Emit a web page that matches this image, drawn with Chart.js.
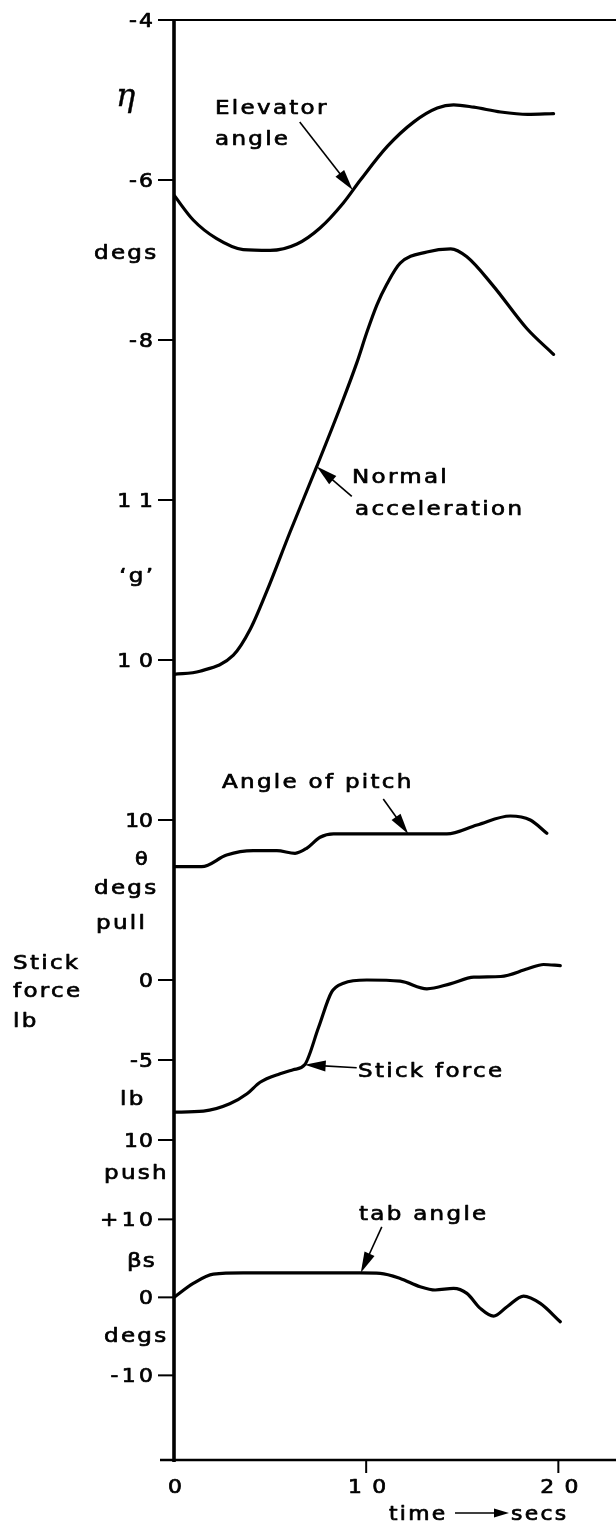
<!DOCTYPE html>
<html>
<head>
<meta charset="utf-8">
<script src="https://cdn.jsdelivr.net/npm/chart.js@4.4.0/dist/chart.umd.min.js"></script>
<style>
  html, body { margin: 0; padding: 0; background: #fff; }
  #wrap { width: 616px; height: 1525px; }
</style>
</head>
<body>
<div id="wrap"><canvas id="chartManoeuvre"></canvas></div>
<script>
// Time histories of a pull-up: elevator, normal acceleration, pitch, stick force, tab
const timeTicks = [0, 10, 20];
const timeTickLabels = ['0', '10', '20'];

const elevatorTime = [0, 1.0, 2.2, 3.6, 5.0, 6.4, 7.6, 8.8, 9.7, 11.1, 12.5, 13.7, 14.55, 15.6, 17.0, 18.4, 19.75];
const elevatorDeg = [-6.19, -6.50, -6.73, -6.87, -6.88, -6.80, -6.60, -6.29, -6.00, -5.58, -5.27, -5.10, -5.06, -5.09, -5.15, -5.18, -5.17];

const accelTime = [0, 1.35, 3.09, 3.96, 4.83, 6.04, 7.43, 8.65, 9.52, 10.04, 10.56, 11.08, 11.77, 13.16, 14.4, 15.24, 16.6, 18.37, 19.75];
const accelG = [9.91, 9.93, 10.03, 10.19, 10.43, 10.80, 11.21, 11.58, 11.86, 12.05, 12.22, 12.35, 12.48, 12.55, 12.57, 12.52, 12.34, 12.07, 11.91];

const pitchTime = [0, 1.44, 2.74, 4.13, 5.35, 6.3, 6.9, 7.6, 8.3, 11.42, 14.2, 15.77, 17.5, 18.54, 19.4];
const pitchDeg = [7.08, 7.08, 7.81, 8.08, 8.08, 7.92, 8.23, 8.92, 9.13, 9.13, 9.13, 9.69, 10.25, 10.0, 9.17];

const stickTime = [0, 1.53, 2.9, 3.8, 4.48, 5.52, 6.2, 6.8, 7.52, 8.2, 8.82, 10.03, 11.77, 13.16, 14.37, 15.6, 17.0, 18.4, 19.23, 20.1];
const stickLb = [-8.26, -8.20, -7.74, -7.11, -6.39, -5.86, -5.61, -5.30, -2.97, -0.76, -0.20, 0.0, -0.07, -0.55, -0.24, 0.18, 0.22, 0.70, 0.97, 0.90];

const tabTime = [0, 1.0, 2.05, 3.6, 9.7, 10.73, 11.77, 12.81, 13.59, 14.55, 15.24, 15.94, 16.63, 17.33, 18.19, 19.06, 20.1];
const tabDeg = [0, 1.79, 2.98, 3.14, 3.14, 3.08, 2.43, 1.36, 0.94, 1.15, 0.51, -1.41, -2.40, -1.2, 0.17, -0.77, -3.13];

const etaTicks = [-4, -6, -8];
const etaTickLabels = ['-4', '-6', '-8'];
const gTicks = [11, 10];
const gTickLabels = ['11', '10'];
const pitchTicks = [10];
const pitchTickLabels = ['10'];
const stickTicks = [0, -5, -10];
const stickTickLabels = ['0', '-5', '10'];
const tabTicks = [10, 0, -10];
const tabTickLabels = ['+10', '0', '-10'];

function pairs(xs, ys) {
    return xs.map((x, i) => ({ x: x, y: ys[i] }));
}

function serie(label, xs, ys, axisId) {
    return {
        label: label,
        data: pairs(xs, ys),
        yAxisID: axisId,
        borderColor: '#000',
        borderWidth: 3.2,
        borderCapStyle: 'round',
        borderJoinStyle: 'round',
        pointRadius: 0,
        cubicInterpolationMode: 'monotone',
        fill: false
    };
}

// lettering helper: wide, spaced, slightly heavy letters
function lettre(ctx, str, x, y, opts) {
    const o = Object.assign({ size: 20, align: 'left', sx: 1.15, spacing: 2, font: '"DejaVu Sans"', style: '', heavy: 0.7 }, opts || {});
    ctx.save();
    ctx.font = (o.style ? o.style + ' ' : '') + o.size + 'px ' + o.font;
    ctx.letterSpacing = o.spacing + 'px';
    ctx.textBaseline = 'alphabetic';
    ctx.textAlign = 'left';
    const w = (ctx.measureText(str).width - o.spacing) * o.sx;
    let x0 = x;
    if (o.align === 'right') x0 = x - w;
    if (o.align === 'center') x0 = x - w / 2;
    ctx.translate(x0, y);
    ctx.scale(o.sx, 1);
    ctx.fillText(str, 0, 0);
    if (o.heavy > 0) {
        ctx.lineWidth = o.heavy;
        ctx.lineJoin = 'round';
        ctx.strokeText(str, 0, 0);
    }
    ctx.restore();
}

function trait(ctx, x1, y1, x2, y2) {
    ctx.beginPath();
    ctx.moveTo(x1, y1);
    ctx.lineTo(x2, y2);
    ctx.stroke();
}

function fleche(ctx, x1, y1, x2, y2, len, half) {
    const a = Math.atan2(y2 - y1, x2 - x1);
    const c = Math.cos(a), s = Math.sin(a);
    ctx.lineWidth = 1.6;
    trait(ctx, x1, y1, x2 - c * len * 0.7, y2 - s * len * 0.7);
    ctx.beginPath();
    ctx.moveTo(x2, y2);
    ctx.lineTo(x2 - c * len - s * half, y2 - s * len + c * half);
    ctx.lineTo(x2 - c * len + s * half, y2 - s * len - c * half);
    ctx.closePath();
    ctx.fill();
}

const axesFigure = {
    id: 'axesFigure',
    afterDraw(chart) {
        const ctx = chart.ctx;
        const area = chart.chartArea;
        const sc = chart.scales;
        const x0 = sc.x.getPixelForValue(0);

        ctx.save();
        ctx.strokeStyle = '#000';
        ctx.fillStyle = '#000';
        ctx.lineCap = 'butt';

        // frame lines
        ctx.lineWidth = 2;
        trait(ctx, 158, area.top, area.right, area.top);
        ctx.lineWidth = 2.4;
        trait(ctx, 160, area.bottom, area.right, area.bottom);
        ctx.lineWidth = 3.6;
        trait(ctx, x0, area.top - 1, x0, area.bottom + 2);

        // left ticks and their numbers
        const gauche = [
            [sc.yEta, etaTicks, etaTickLabels, 2],
            [sc.yG, gTicks, gTickLabels, 7],
            [sc.yPitch, pitchTicks, pitchTickLabels, 0],
            [sc.yStick, stickTicks, stickTickLabels, 1],
            [sc.yTab, tabTicks, tabTickLabels, 3]
        ];
        gauche.forEach(([axe, ticks, labels, sp]) => {
            ticks.forEach((v, i) => {
                const py = axe.getPixelForValue(v);
                ctx.lineWidth = 2;
                trait(ctx, x0 - 16, py, x0, py);
                lettre(ctx, labels[i], 153, py + 7, { size: 19, align: 'right', spacing: sp });
            });
        });

        // bottom ticks
        timeTicks.forEach((t, i) => {
            const px = sc.x.getPixelForValue(t);
            if (t !== 0) {
                ctx.lineWidth = 2;
                trait(ctx, px, area.bottom, px, area.bottom + 13);
            }
            lettre(ctx, timeTickLabels[i], px + 1, 1493, { size: 19, align: 'center', spacing: t === 0 ? 0 : 9 });
        });
        lettre(ctx, 'time', 389, 1520, { size: 19 });
        ctx.lineWidth = 2;
        fleche(ctx, 455, 1513, 509, 1513, 15, 4.5);
        lettre(ctx, 'secs', 511, 1520, { size: 19 });

        // quantity and unit names beside the axis
        lettre(ctx, 'η', 116, 106, { size: 32, font: '"DejaVu Serif"', style: 'italic', spacing: 0, sx: 1, heavy: 0.4 });
        lettre(ctx, 'degs', 94, sc.yEta.getPixelForValue(-6.9) + 7);
        lettre(ctx, '‘g’', 153, sc.yG.getPixelForValue(10.53) + 7, { align: 'right' });
        lettre(ctx, 'θ', 135, sc.yPitch.getPixelForValue(7.6) + 7, { size: 18, spacing: 0 });
        lettre(ctx, 'degs', 94, sc.yPitch.getPixelForValue(5.8) + 7);
        lettre(ctx, 'pull', 96, sc.yStick.getPixelForValue(3.6) + 7);
        lettre(ctx, 'Stick', 13, sc.yStick.getPixelForValue(1.1) + 7);
        lettre(ctx, 'force', 13, sc.yStick.getPixelForValue(-0.6) + 7);
        lettre(ctx, 'lb', 13, sc.yStick.getPixelForValue(-2.5) + 7);
        lettre(ctx, 'lb', 120, sc.yStick.getPixelForValue(-7.4) + 7);
        lettre(ctx, 'push', 104, sc.yStick.getPixelForValue(-12.1) + 5);
        lettre(ctx, 'βs', 127, sc.yTab.getPixelForValue(4.5) + 5, { spacing: 1 });
        lettre(ctx, 'degs', 104, sc.yTab.getPixelForValue(-5.1) + 5);

        // curve names with pointer arrows
        const notes = [
            { axe: 'yEta', at: [9.3, -6.125], tail: [-53, -68], lines: [['Elevator', 215, 114], ['angle', 215, 145]] },
            { axe: 'yG', at: [7.43, 11.21], tail: [35, 30], lines: [['Normal', 352, 483], ['acceleration', 355, 515]] },
            { axe: 'yPitch', at: [12.19, 9.13], tail: [-25, -35], lines: [['Angle of pitch', 222, 788]] },
            { axe: 'yStick', at: [6.8, -5.3], tail: [52, 3], lines: [['Stick force', 358, 1077]] },
            { axe: 'yTab', at: [9.72, 3.14], tail: [21, -46], lines: [['tab angle', 359, 1220]] }
        ];
        notes.forEach(n => {
            const tx = sc.x.getPixelForValue(n.at[0]);
            const ty = sc[n.axe].getPixelForValue(n.at[1]);
            fleche(ctx, tx + n.tail[0], ty + n.tail[1], tx, ty, 21, 5.5);
            n.lines.forEach(([txt, lx, ly]) => lettre(ctx, txt, lx, ly));
        });

        ctx.restore();
    }
};

document.addEventListener('DOMContentLoaded', function() {
    const ctx = document.getElementById('chartManoeuvre');
    new Chart(ctx, {
        type: 'line',
        data: {
            datasets: [
                serie('Elevator angle', elevatorTime, elevatorDeg, 'yEta'),
                serie('Normal acceleration', accelTime, accelG, 'yG'),
                serie('Angle of pitch', pitchTime, pitchDeg, 'yPitch'),
                serie('Stick force', stickTime, stickLb, 'yStick'),
                serie('tab angle', tabTime, tabDeg, 'yTab')
            ]
        },
        options: {
            responsive: true,
            maintainAspectRatio: false,
            animation: false,
            layout: { padding: { left: 174, right: 0, top: 20, bottom: 65 } },
            scales: {
                x: { type: 'linear', min: 0, max: 23, display: false },
                yEta: { type: 'linear', position: 'left', min: -22, max: -4, display: false },
                yG: { type: 'linear', position: 'left', min: 5, max: 14, display: false },
                yPitch: { type: 'linear', position: 'left', min: -30, max: 60, display: false },
                yStick: { type: 'linear', position: 'left', min: -30, max: 60, display: false },
                yTab: { type: 'linear', position: 'left', min: -20.85, max: 163.75, display: false }
            },
            plugins: {
                legend: { display: false },
                tooltip: { enabled: false }
            }
        },
        plugins: [axesFigure]
    });
});
</script>
</body>
</html>
